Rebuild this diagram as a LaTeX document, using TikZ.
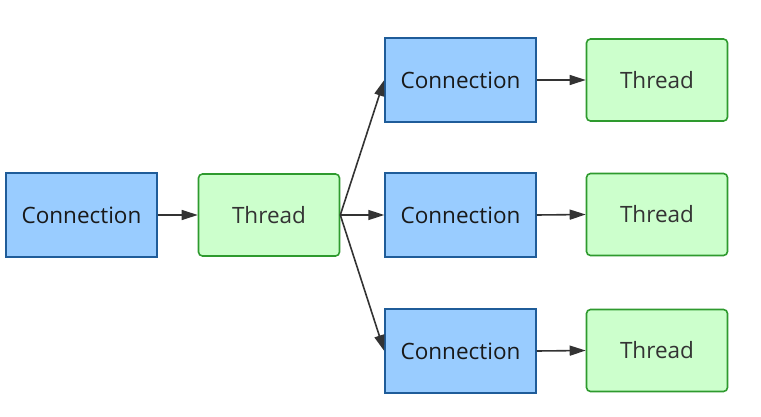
\documentclass[tikz,border=0pt]{standalone}
\usepackage{fontspec}
\setmainfont{Open Sans}
\usetikzlibrary{arrows.meta}
\definecolor{cfill}{HTML}{99CCFF}
\definecolor{cdraw}{HTML}{1F5C99}
\definecolor{tfill}{HTML}{CCFFCC}
\definecolor{tdraw}{HTML}{2E9A2E}
\definecolor{arr}{HTML}{333333}
\tikzset{
  conn/.style={draw=cdraw, fill=cfill, line width=1.5pt, minimum width=151pt, minimum height=84pt, inner sep=0pt, font=\fontsize{22.5}{26}\selectfont, text=black!90},
  thr/.style={draw=tdraw, fill=tfill, line width=1.6pt, rounded corners=4pt, minimum width=141pt, minimum height=82pt, inner sep=0pt, font=\fontsize{22.5}{26}\selectfont, text=black!80},
  link/.style={draw=arr, line width=1.6pt, -{Triangle[length=16pt,width=10pt]}}
}
\begin{document}
\begin{tikzpicture}[x=1pt,y=-1pt]
\useasboundingbox (0,0) rectangle (761,417);
\node[conn] (c0) at (81.5,215) {Connection};
\node[thr]  (t0) at (269,215) {Thread};
\node[conn] (c1) at (460.5,80) {Connection};
\node[thr]  (t1) at (657,80) {Thread};
\node[conn] (c2) at (460.5,215) {Connection};
\node[thr]  (t2) at (657,214.5) {Thread};
\node[conn] (c3) at (460.5,351) {Connection};
\node[thr]  (t3) at (657,350.5) {Thread};
\draw[link] (c0.east) -- (t0.west);
\draw[link] (t0.east) -- (c1.west);
\draw[link] (t0.east) -- (c2.west);
\draw[link] (t0.east) -- (c3.west);
\draw[link] (c1.east) -- (t1.west);
\draw[link] (c2.east) -- (t2.west);
\draw[link] (c3.east) -- (t3.west);
\end{tikzpicture}
\end{document}
